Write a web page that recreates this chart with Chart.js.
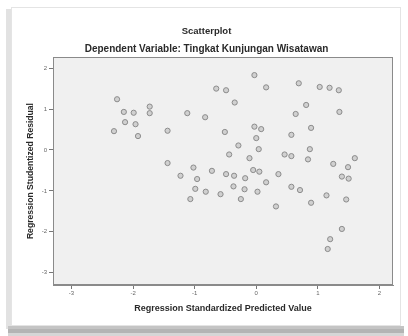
<!DOCTYPE html>
<html>
<head>
<meta charset="utf-8">
<script src="https://cdn.jsdelivr.net/npm/chart.js@4/dist/chart.umd.min.js"></script>
<style>
html,body{margin:0;padding:0;background:#fff;}
#wrap{width:408px;height:336px;position:relative;}
</style>
</head>
<body>
<div id="wrap"><canvas id="c" width="408" height="336"></canvas></div>
<script>
// Regression Standardized Predicted Value (x)
const predicted = [
 -2.26,-2.15,-1.99,-1.73,-1.73,-2.13,-1.96,-2.31,-1.92,-1.44,
 -1.12,-0.83,-0.65,-0.49,-0.35,-0.51,-0.29,-0.44,-0.11,-1.44,
 -1.02,-0.72,-1.23,-0.96,-0.49,-0.36,-0.18,-0.99,-0.82,-0.58,
 -0.37,-0.19,-1.07,-0.25,-0.03,0.16,0.69,1.03,1.19,1.34,
 0.81,0.64,1.35,-0.03,0.08,0.00,0.89,0.57,0.04,0.46,
 0.57,0.87,0.84,1.25,1.60,1.49,-0.05,0.05,0.16,0.36,
 0.02,0.57,0.71,1.39,1.50,1.14,1.46,0.89,0.32,1.39,
 1.20,1.16
];
// Regression Studentized Residual (y)
const residual = [
 1.24,0.93,0.91,1.06,0.90,0.68,0.63,0.46,0.34,0.47,
 0.90,0.80,1.50,1.46,1.16,0.44,0.11,-0.11,-0.20,-0.32,
 -0.43,-0.51,-0.63,-0.71,-0.59,-0.63,-0.69,-0.95,-1.02,-1.08,
 -0.89,-0.96,-1.20,-1.20,1.83,1.53,1.63,1.54,1.52,1.46,
 1.10,0.88,0.93,0.57,0.51,0.29,0.54,0.37,0.02,-0.11,
 -0.15,0.02,-0.23,-0.34,-0.20,-0.42,-0.49,-0.53,-0.79,-0.59,
 -1.02,-0.90,-0.98,-0.65,-0.70,-1.11,-1.21,-1.29,-1.38,-1.93,
 -2.18,-2.42
];
const xTicks = [-3,-2,-1,0,1,2];
const yTicks = [-3,-2,-1,0,1,2];

const points = predicted.map((x,i)=>({x:x,y:residual[i]}));

const framePlugin = {
  id:'frame',
  beforeDraw(chart){
    const ctx = chart.ctx;
    ctx.save();
    ctx.fillStyle='#ffffff';
    ctx.fillRect(0,0,chart.width,chart.height);
    // shadow bands
    ctx.fillStyle='#e2e2e2';
    ctx.fillRect(6,9,5,320);
    ctx.fillStyle='#c4c4c4';
    ctx.fillRect(8,326,396,3);
    ctx.fillStyle='#b4b4b4';
    ctx.fillRect(8,329,396,4);
    ctx.fillStyle='#d6d6d6';
    ctx.fillRect(8,333,396,3);
    // card
    ctx.fillStyle='#ffffff';
    ctx.fillRect(11,7,390,319);
    ctx.strokeStyle='#e4e4e4';
    ctx.lineWidth=1;
    ctx.strokeRect(11.5,7.5,389,318);
    ctx.restore();
  },
  beforeDatasetsDraw(chart){
    const {ctx, chartArea:a} = chart;
    ctx.save();
    ctx.fillStyle='#f0f0f0';
    ctx.fillRect(a.left,a.top,a.right-a.left,a.bottom-a.top);
    ctx.strokeStyle='#8a8a8a';
    ctx.lineWidth=1;
    ctx.strokeRect(Math.round(a.left)+0.5,Math.round(a.top)+0.5,Math.round(a.right-a.left)-1,Math.round(a.bottom-a.top)-1);
    ctx.restore();
  }
};

new Chart(document.getElementById('c'),{
  type:'scatter',
  data:{datasets:[{
    data:points,
    pointRadius:2.6,
    pointHoverRadius:2.6,
    borderColor:'#8c8c8c',
    backgroundColor:'rgba(150,150,150,0.35)',
    borderWidth:1
  }]},
  options:{
    responsive:false,
    animation:false,
    events:[],
    layout:{padding:{left:20,right:15,top:20,bottom:16}},
    plugins:{
      legend:{display:false},
      tooltip:{enabled:false},
      title:{display:true,text:'Scatterplot',color:'#2a2a2a',
        font:{family:'Liberation Sans, Arial, sans-serif',size:9.5,weight:'bold'},
        padding:{top:5.3,bottom:2.6}},
      subtitle:{display:true,text:'Dependent Variable: Tingkat Kunjungan Wisatawan',color:'#2a2a2a',
        font:{family:'Liberation Sans, Arial, sans-serif',size:10,weight:'bold'},
        padding:{top:3.8,bottom:2}}
    },
    scales:{
      x:{type:'linear',min:-3.3,max:2.22,
        afterBuildTicks:ax=>{ax.ticks=xTicks.map(v=>({value:v}));},
        afterFit:ax=>{ax.height=35;},
        grid:{drawOnChartArea:false,drawTicks:true,tickLength:4,color:'#777'},
        border:{display:true,color:'#8a8a8a'},
        ticks:{color:'#666',padding:1,font:{family:'Liberation Sans, Arial, sans-serif',size:6},maxRotation:0},
        title:{display:true,text:'Regression Standardized Predicted Value',color:'#2a2a2a',
          font:{family:'Liberation Sans, Arial, sans-serif',size:9,weight:'bold'},padding:{top:0,bottom:5.6}}
      },
      y:{type:'linear',min:-3.3,max:2.27,
        afterBuildTicks:ax=>{ax.ticks=yTicks.map(v=>({value:v}));},
        afterFit:ax=>{ax.width=33;},
        grid:{drawOnChartArea:false,drawTicks:true,tickLength:4,color:'#777'},
        border:{display:true,color:'#8a8a8a'},
        ticks:{color:'#666',padding:2,font:{family:'Liberation Sans, Arial, sans-serif',size:6}},
        title:{display:true,text:'Regression Studentized Residual',color:'#2a2a2a',
          font:{family:'Liberation Sans, Arial, sans-serif',size:8.6,weight:'bold'},padding:{top:5.7,bottom:0}}
      }
    }
  },
  plugins:[framePlugin]
});
</script>
</body>
</html>
